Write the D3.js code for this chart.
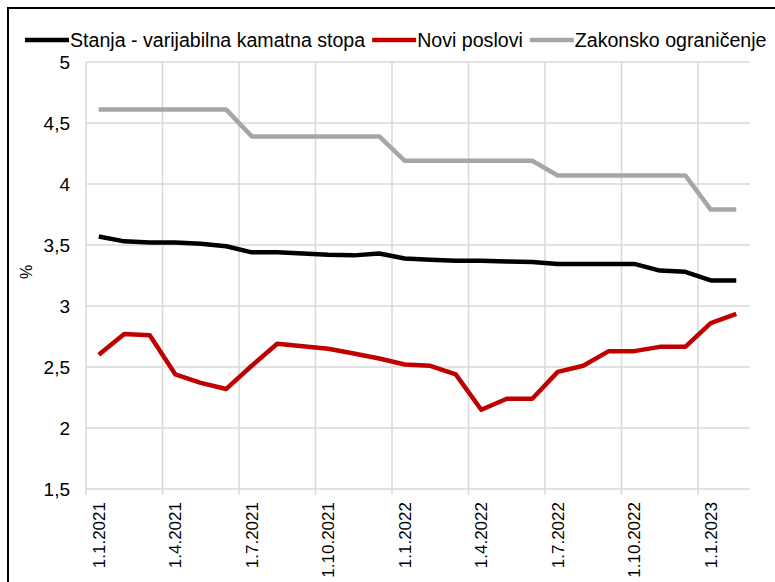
<!DOCTYPE html>
<html>
<head>
<meta charset="utf-8">
<script src="https://cdn.jsdelivr.net/npm/d3@7"></script>
<style>
  body { margin: 0; background: #fff; }
  text { font-family: "Liberation Sans", Arial, sans-serif; fill: #000; }
</style>
</head>
<body>
<div id="chart"></div>
<script>
// Data
const months = ["1.1.2021","1.2.2021","1.3.2021","1.4.2021","1.5.2021","1.6.2021",
  "1.7.2021","1.8.2021","1.9.2021","1.10.2021","1.11.2021","1.12.2021",
  "1.1.2022","1.2.2022","1.3.2022","1.4.2022","1.5.2022","1.6.2022",
  "1.7.2022","1.8.2022","1.9.2022","1.10.2022","1.11.2022","1.12.2022",
  "1.1.2023","1.2.2023"];
const stanja = [3.57,3.53,3.52,3.52,3.51,3.49,3.44,3.44,3.43,3.42,3.415,3.43,
  3.39,3.38,3.37,3.37,3.365,3.36,3.345,3.345,3.345,3.345,3.29,3.28,3.21,3.21];
const noviPoslovi = [2.60,2.77,2.76,2.44,2.37,2.32,2.51,2.69,2.67,2.65,2.61,2.57,
  2.52,2.51,2.44,2.15,2.24,2.24,2.46,2.51,2.63,2.63,2.665,2.665,2.86,2.935];
const zakonsko = [4.61,4.61,4.61,4.61,4.61,4.61,4.39,4.39,4.39,4.39,4.39,4.39,
  4.19,4.19,4.19,4.19,4.19,4.19,4.07,4.07,4.07,4.07,4.07,4.07,3.79,3.79];
const yTicks = [1.5,2,2.5,3,3.5,4,4.5,5];
const seriesNames = ["Stanja - varijabilna kamatna stopa","Novi poslovi","Zakonsko ograničenje"];
const seriesColors = ["#000000","#c00000","#a6a6a6"];

const W = 775, H = 582;
const plot = {left: 86, right: 749, top: 62, bottom: 489};

const svg = d3.select("#chart").append("svg")
  .attr("width", W).attr("height", H);

// outer border
svg.append("rect")
  .attr("x", 8).attr("y", 8)
  .attr("width", W + 10).attr("height", H + 10)
  .attr("fill", "none").attr("stroke", "#000").attr("stroke-width", 2);

const x = d3.scaleBand().domain(months).range([plot.left, plot.right]).padding(0);
const y = d3.scaleLinear().domain([1.5, 5]).range([plot.bottom, plot.top]);
const cx = d => x(d) + x.bandwidth() / 2;

// horizontal gridlines
svg.append("g").selectAll("line")
  .data(yTicks)
  .join("line")
  .attr("x1", plot.left).attr("x2", plot.right + 1)
  .attr("y1", d => y(d)).attr("y2", d => y(d))
  .attr("stroke", "#d9d9d9").attr("stroke-width", 1.5);

// vertical gridlines every 3 months (category boundaries)
const tickMonths = months.filter((m, i) => i % 3 === 0);
svg.append("g").selectAll("line")
  .data(tickMonths)
  .join("line")
  .attr("x1", d => x(d)).attr("x2", d => x(d))
  .attr("y1", plot.top).attr("y2", plot.bottom + 6)
  .attr("stroke", "#d9d9d9").attr("stroke-width", 1.5);

// y labels
const fmt = d => String(d).replace(".", ",");
svg.append("g").selectAll("text")
  .data(yTicks)
  .join("text")
  .attr("x", 70).attr("y", d => y(d))
  .attr("dy", "0.35em")
  .attr("text-anchor", "end")
  .attr("font-size", 19)
  .text(fmt);

// y title
svg.append("text")
  .attr("transform", "translate(32,272) rotate(-90)")
  .attr("text-anchor", "middle")
  .attr("font-size", 16)
  .text("%");

// x labels
svg.append("g").selectAll("text")
  .data(tickMonths)
  .join("text")
  .attr("transform", d => `translate(${cx(d)},502) rotate(-90)`)
  .attr("text-anchor", "end")
  .attr("dy", "0.35em")
  .attr("font-size", 17)
  .text(d => d);

// lines
const line = d3.line()
  .x((d, i) => cx(months[i]))
  .y(d => y(d));

[stanja, noviPoslovi, zakonsko].forEach((s, k) => {
  svg.append("path")
    .datum(s)
    .attr("d", line)
    .attr("fill", "none")
    .attr("stroke", seriesColors[k])
    .attr("stroke-width", 4.5)
    .attr("stroke-linejoin", "round");
});

// legend
const legend = svg.append("g").attr("transform", "translate(25,40)");
let lx = 0;
seriesNames.forEach((name, k) => {
  legend.append("line")
    .attr("x1", lx).attr("x2", lx + 44)
    .attr("y1", 0).attr("y2", 0)
    .attr("stroke", seriesColors[k]).attr("stroke-width", 4.5);
  const t = legend.append("text")
    .attr("x", lx + 45).attr("y", 0)
    .attr("dy", "0.35em")
    .attr("font-size", 19.6)
    .text(name);
  lx += 45 + t.node().getComputedTextLength() + 7;
});
</script>
</body>
</html>
